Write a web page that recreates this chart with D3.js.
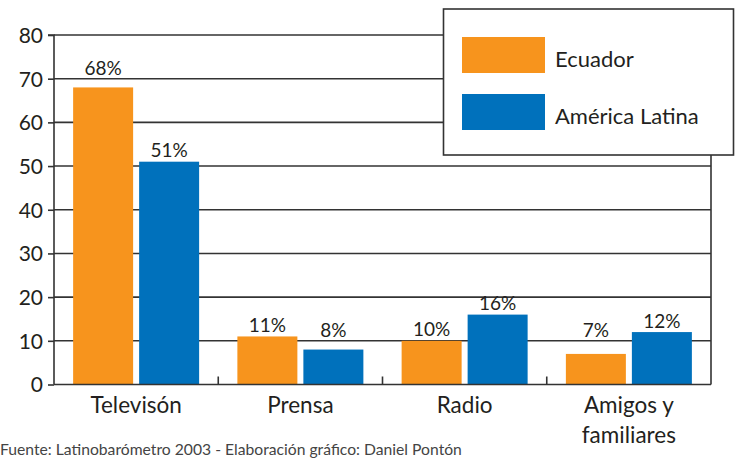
<!DOCTYPE html>
<html><head><meta charset="utf-8">
<script src="https://cdn.jsdelivr.net/npm/d3@7"></script>
<style>
html,body{margin:0;padding:0;background:#fff;}
svg text{font-family:Lato,"Open Sans",sans-serif;fill:#231f20;}
</style></head>
<body>
<svg id="chart" width="735" height="459"></svg>
<script>
const categories = [["Televisón"], ["Prensa"], ["Radio"], ["Amigos y", "familiares"]];
const seriesNames = ["Ecuador", "América Latina"];
const ecuador = [68, 11, 10, 7];
const americaLatina = [51, 8, 16, 12];
const yTicks = [0, 10, 20, 30, 40, 50, 60, 70, 80];
const colors = ["#f7941d", "#0071bc"];
const source = "Fuente: Latinobarómetro 2003 - Elaboración gráfico: Daniel Pontón";

(function () {
const svg = d3.select("#chart");
const pL = 54, pR = 711, pT = 35, pB = 384.5;

const x = d3.scaleBand().domain(d3.range(categories.length)).range([pL, pR]).paddingInner(0).paddingOuter(0);
const y = d3.scaleLinear().domain([0, 80]).range([pB, pT]);
const bw = 60, gap = 6;
const sub = d3.scaleBand().domain([0, 1]).range([0, bw * 2 + gap]).paddingInner(gap / (bw + gap));

// gridlines
const grid = yTicks.filter(d => d > 0);
svg.append("g").selectAll("line").data(grid).join("line")
  .attr("x1", pL).attr("x2", pR)
  .attr("y1", d => y(d)).attr("y2", d => y(d))
  .attr("stroke", "#333").attr("stroke-width", 1.6);

// right border
svg.append("line").attr("x1", pR).attr("x2", pR).attr("y1", pT).attr("y2", pB)
  .attr("stroke", "#333").attr("stroke-width", 1.6);

// label baseline: just above bar, lifted above any gridline it would cross
const labelGap = 4.5, capH = 12.5;
function labelY(v) {
  let b = y(v) - labelGap;
  grid.forEach(g => {
    const gy = y(g);
    if (gy < b && gy > b - capH) b = gy - 4;
  });
  return b;
}

// bars
const series = [ecuador, americaLatina];
const off = (x.bandwidth() - (bw * 2 + gap)) / 2;
series.forEach((vals, si) => {
  svg.append("g").selectAll("rect").data(vals).join("rect")
    .attr("x", (d, i) => x(i) + off + sub(si))
    .attr("width", sub.bandwidth())
    .attr("y", d => y(d))
    .attr("height", d => y(0) - y(d))
    .attr("fill", colors[si]);
  svg.append("g").selectAll("text").data(vals).join("text")
    .attr("x", (d, i) => x(i) + off + sub(si) + sub.bandwidth() / 2)
    .attr("y", d => labelY(d))
    .attr("text-anchor", "middle")
    .attr("font-size", 19)
    .text(d => d + "%");
});

// y axis
const yAxis = d3.axisLeft(y).tickValues(yTicks).tickSize(6).tickPadding(5);
const ya = svg.append("g").attr("transform", `translate(${pL},0)`).call(yAxis);
ya.select(".domain").attr("stroke", "#333").attr("stroke-width", 1.6).attr("d", `M-6,${pT}H0V${pB}`);
ya.selectAll(".tick line").attr("stroke", "#333").attr("stroke-width", 1.6);
ya.selectAll(".tick text").attr("font-size", 21).attr("font-family", "Lato,sans-serif").attr("fill", "#231f20").attr("dy", "0.35em");

// x axis baseline and separators
svg.append("line").attr("x1", pL).attr("x2", pR).attr("y1", pB).attr("y2", pB)
  .attr("stroke", "#333").attr("stroke-width", 1.6);
svg.append("g").selectAll("line").data(d3.range(1, categories.length)).join("line")
  .attr("x1", d => x(d)).attr("x2", d => x(d)).attr("y1", pB).attr("y2", pB - 8)
  .attr("stroke", "#333").attr("stroke-width", 1.6);

// category labels
const cl = svg.append("g").selectAll("text").data(categories).join("text")
  .attr("x", (d, i) => x(i) + x.bandwidth() / 2)
  .attr("y", 413)
  .attr("text-anchor", "middle")
  .attr("font-size", 22.5);
cl.selectAll("tspan").data(d => d).join("tspan")
  .attr("x", function () { return this.parentNode.getAttribute("x"); })
  .attr("dy", (d, i) => i === 0 ? 0 : 30)
  .text(d => d);

// legend
const lg = svg.append("g");
lg.append("rect").attr("x", 443.5).attr("y", 9).attr("width", 290).attr("height", 146)
  .attr("fill", "#fff").attr("stroke", "#333").attr("stroke-width", 1.6);
seriesNames.forEach((n, i) => {
  lg.append("rect").attr("x", 462).attr("y", 37 + i * 57).attr("width", 83).attr("height", 36).attr("fill", colors[i]);
  lg.append("text").attr("x", 555).attr("y", 67 + i * 57).attr("font-size", 22).text(n);
});

// source
svg.append("text").attr("x", 0).attr("y", 455).attr("font-size", 15.7).style("fill", "#444").text(source);
})();
</script>
</body></html>
